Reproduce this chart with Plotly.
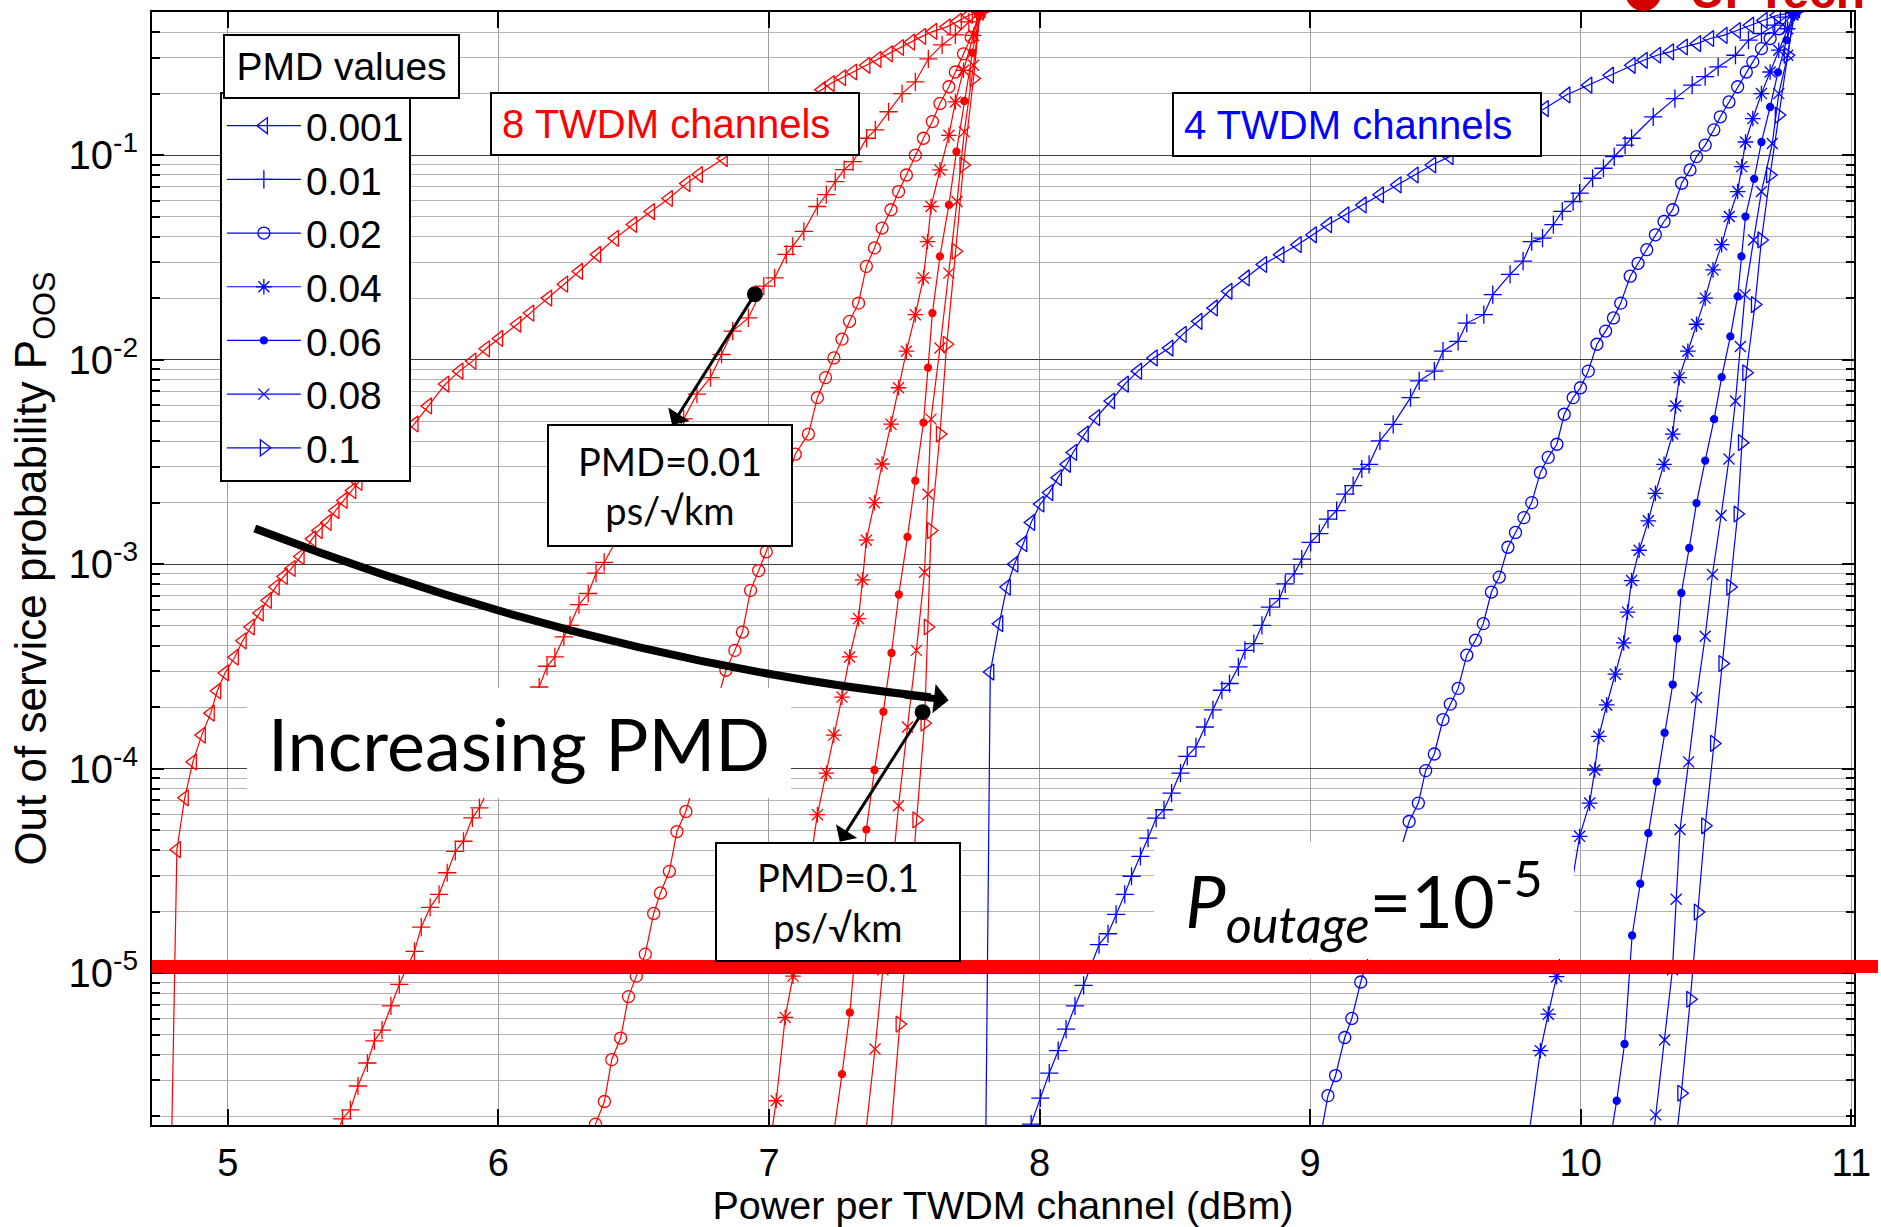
import plotly.graph_objects as go

# ---------------- data ----------------
pmd_labels = ["0.001", "0.01", "0.02", "0.04", "0.06", "0.08", "0.1"]

x_tick_vals = [5, 6, 7, 8, 9, 10, 11]
x_tick_text = ["5", "6", "7", "8", "9", "10", "11"]
y_tick_vals = [1e-5, 1e-4, 1e-3, 1e-2, 1e-1]
y_tick_text = ["10<sup>-5</sup>", "10<sup>-4</sup>", "10<sup>-3</sup>", "10<sup>-2</sup>", "10<sup>-1</sup>"]
p_outage = 1.08e-5

# 8 TWDM channels (red): (power dBm, P_OOS)
red_0001 = [(4.790, 1.0e-6), (4.812, 4.02e-5), (4.841, 7.21e-5), (4.871, 1.08e-4), (4.904, 1.46e-4),
            (4.937, 1.87e-4), (4.961, 2.40e-4), (4.990, 2.94e-4), (5.026, 3.51e-4), (5.055, 4.22e-4),
            (5.085, 4.93e-4), (5.118, 5.77e-4), (5.148, 6.65e-4), (5.177, 7.73e-4), (5.207, 8.71e-4),
            (5.236, 9.53e-4), (5.269, 1.09e-3), (5.312, 1.33e-3), (5.336, 1.46e-3), (5.369, 1.60e-3),
            (5.398, 1.83e-3), (5.428, 2.05e-3), (5.460, 2.29e-3), (5.483, 2.51e-3), (5.690, 4.85e-3),
            (5.740, 5.94e-3), (5.804, 7.60e-3), (5.856, 8.79e-3), (5.904, 9.84e-3), (5.954, 1.13e-2),
            (6.003, 1.27e-2), (6.070, 1.49e-2), (6.118, 1.69e-2), (6.184, 2.00e-2), (6.243, 2.34e-2),
            (6.298, 2.70e-2), (6.365, 3.27e-2), (6.431, 3.92e-2), (6.498, 4.58e-2), (6.564, 5.30e-2),
            (6.630, 6.14e-2), (6.695, 7.26e-2), (6.741, 8.04e-2), (6.833, 9.62e-2), (7.195, 2.09e-1),
            (7.228, 2.24e-1), (7.270, 2.39e-1), (7.311, 2.55e-1), (7.360, 2.75e-1), (7.401, 2.94e-1),
            (7.443, 3.13e-1), (7.484, 3.36e-1), (7.525, 3.57e-1), (7.566, 3.81e-1), (7.607, 4.03e-1),
            (7.657, 4.24e-1), (7.698, 4.51e-1), (7.739, 4.83e-1), (7.780, 5.0e-1)]
red_001 = [(5.395, 1.5e-6), (5.424, 1.94e-6), (5.453, 2.15e-6), (5.481, 2.81e-6), (5.516, 3.64e-6),
           (5.542, 4.67e-6), (5.570, 5.27e-6), (5.603, 6.92e-6), (5.634, 8.83e-6), (5.690, 1.28e-5),
           (5.715, 1.68e-5), (5.748, 2.10e-5), (5.781, 2.43e-5), (5.811, 3.10e-5), (5.841, 3.94e-5),
           (5.871, 4.42e-5), (5.904, 5.75e-5), (5.930, 6.44e-5), (6.151, 2.51e-4), (6.180, 3.17e-4),
           (6.209, 3.52e-4), (6.242, 4.41e-4), (6.265, 5.02e-4), (6.298, 6.35e-4), (6.332, 7.19e-4),
           (6.361, 9.04e-4), (6.391, 1.02e-3), (6.685, 5.13e-3), (6.734, 6.79e-3), (6.784, 8.17e-3),
           (6.825, 1.06e-2), (6.866, 1.38e-2), (6.924, 1.60e-2), (6.981, 2.29e-2), (7.021, 2.51e-2),
           (7.064, 3.27e-2), (7.088, 3.58e-2), (7.129, 4.24e-2), (7.179, 5.61e-2), (7.212, 6.41e-2),
           (7.245, 7.43e-2), (7.278, 8.49e-2), (7.311, 9.29e-2), (7.361, 1.21e-1), (7.393, 1.33e-1),
           (7.442, 1.63e-1), (7.492, 2.00e-1), (7.541, 2.28e-1), (7.589, 2.96e-1), (7.640, 3.46e-1),
           (7.689, 3.87e-1), (7.739, 4.48e-1), (7.780, 5.0e-1)]
red_002 = [(6.345, 1.5e-6), (6.359, 1.83e-6), (6.392, 2.36e-6), (6.419, 3.78e-6), (6.452, 4.82e-6),
           (6.481, 7.69e-6), (6.510, 9.68e-6), (6.543, 1.24e-5), (6.574, 1.96e-5), (6.599, 2.47e-5),
           (6.632, 3.15e-5), (6.660, 4.93e-5), (6.693, 6.18e-5), (6.841, 3.03e-4), (6.874, 3.79e-4),
           (6.902, 4.66e-4), (6.932, 7.45e-4), (6.962, 9.31e-4), (6.990, 1.15e-3), (7.097, 3.45e-3),
           (7.146, 4.33e-3), (7.179, 6.52e-3), (7.209, 8.17e-3), (7.240, 1.02e-2), (7.270, 1.26e-2),
           (7.298, 1.54e-2), (7.331, 1.89e-2), (7.360, 2.86e-2), (7.390, 3.52e-2), (7.418, 4.40e-2),
           (7.451, 5.41e-2), (7.479, 6.64e-2), (7.508, 8.00e-2), (7.541, 1.00e-1), (7.571, 1.21e-1),
           (7.604, 1.46e-1), (7.632, 1.79e-1), (7.665, 2.16e-1), (7.689, 2.55e-1), (7.719, 3.13e-1),
           (7.747, 3.78e-1), (7.780, 5.0e-1)]
red_004 = [(7.005, 1.5e-6), (7.027, 2.38e-6), (7.060, 6.08e-6), (7.089, 9.68e-6), (7.179, 5.96e-5),
           (7.212, 9.51e-5), (7.240, 1.46e-4), (7.270, 2.24e-4), (7.298, 3.52e-4), (7.331, 5.42e-4),
           (7.346, 8.39e-4), (7.360, 1.31e-3), (7.390, 2.00e-3), (7.418, 3.09e-3), (7.451, 4.84e-3),
           (7.479, 7.29e-3), (7.508, 1.10e-2), (7.541, 1.66e-2), (7.571, 2.51e-2), (7.586, 3.78e-2),
           (7.599, 5.61e-2), (7.632, 8.47e-2), (7.665, 1.25e-1), (7.689, 1.82e-1), (7.719, 2.60e-1),
           (7.756, 3.85e-1), (7.780, 5.0e-1)]
red_006 = [(7.235, 1.5e-6), (7.270, 3.21e-6), (7.299, 6.43e-6), (7.360, 5.04e-5), (7.390, 9.86e-5),
           (7.423, 1.90e-4), (7.453, 3.68e-4), (7.480, 7.11e-4), (7.512, 1.36e-3), (7.541, 2.56e-3),
           (7.571, 4.92e-3), (7.588, 9.14e-3), (7.604, 1.69e-2), (7.632, 3.20e-2), (7.665, 5.71e-2),
           (7.693, 1.04e-1), (7.722, 1.84e-1), (7.752, 3.17e-1), (7.780, 5.0e-1)]
red_008 = [(7.354, 1.5e-6), (7.392, 4.26e-6), (7.421, 1.04e-5), (7.479, 6.59e-5), (7.512, 1.60e-4),
           (7.545, 3.79e-4), (7.575, 9.14e-4), (7.588, 2.20e-3), (7.599, 5.12e-3), (7.632, 1.14e-2),
           (7.665, 2.65e-2), (7.695, 5.93e-2), (7.722, 1.30e-1), (7.756, 2.75e-1), (7.780, 5.0e-1)]
red_01 = [(7.448, 1.5e-6), (7.483, 5.64e-6), (7.545, 5.62e-5), (7.575, 1.67e-4), (7.587, 4.93e-4),
          (7.599, 1.46e-3), (7.632, 4.33e-3), (7.657, 1.19e-2), (7.690, 3.39e-2), (7.719, 8.95e-2),
          (7.756, 2.37e-1), (7.780, 5.0e-1)]

# 4 TWDM channels (blue)
blue_0001 = [(7.800, 1.0e-6), (7.818, 2.97e-4), (7.851, 5.12e-4), (7.879, 7.73e-4), (7.907, 1.00e-3),
             (7.940, 1.26e-3), (7.969, 1.60e-3), (8.003, 1.97e-3), (8.036, 2.24e-3), (8.068, 2.65e-3),
             (8.101, 3.08e-3), (8.124, 3.52e-3), (8.167, 4.33e-3), (8.209, 5.21e-3), (8.264, 6.28e-3),
             (8.315, 7.59e-3), (8.364, 8.79e-3), (8.422, 1.02e-2), (8.480, 1.14e-2), (8.529, 1.33e-2),
             (8.587, 1.54e-2), (8.644, 1.79e-2), (8.698, 2.16e-2), (8.762, 2.51e-2), (8.826, 2.92e-2),
             (8.890, 3.26e-2), (8.954, 3.65e-2), (9.010, 4.08e-2), (9.066, 4.57e-2), (9.130, 5.11e-2),
             (9.194, 5.71e-2), (9.258, 6.40e-2), (9.323, 7.16e-2), (9.386, 8.00e-2), (9.451, 8.95e-2),
             (9.515, 9.84e-2), (9.867, 1.69e-1), (9.947, 1.97e-1), (10.028, 2.20e-1), (10.108, 2.46e-1),
             (10.188, 2.75e-1), (10.233, 2.91e-1), (10.282, 3.08e-1), (10.330, 3.20e-1), (10.381, 3.38e-1),
             (10.430, 3.51e-1), (10.478, 3.72e-1), (10.528, 3.85e-1), (10.577, 4.07e-1), (10.626, 4.32e-1),
             (10.676, 4.56e-1), (10.725, 4.83e-1), (10.790, 5.0e-1)]
blue_001 = [(7.955, 1.5e-6), (7.969, 1.83e-6), (8.003, 2.45e-6), (8.036, 3.25e-6), (8.069, 4.18e-6),
            (8.098, 5.33e-6), (8.131, 6.92e-6), (8.163, 8.73e-6), (8.220, 1.38e-5), (8.253, 1.56e-5),
            (8.283, 1.94e-5), (8.315, 2.43e-5), (8.340, 2.98e-5), (8.373, 3.73e-5), (8.401, 4.58e-5),
            (8.431, 5.74e-5), (8.460, 6.30e-5), (8.488, 7.60e-5), (8.521, 9.51e-5), (8.546, 1.15e-4),
            (8.578, 1.28e-4), (8.611, 1.60e-4), (8.641, 1.94e-4), (8.674, 2.42e-4), (8.702, 2.61e-4),
            (8.735, 3.15e-4), (8.759, 3.79e-4), (8.792, 4.09e-4), (8.822, 5.02e-4), (8.851, 6.17e-4),
            (8.887, 6.78e-4), (8.908, 8.02e-4), (8.941, 8.97e-4), (8.969, 1.06e-3), (9.002, 1.28e-3),
            (9.034, 1.41e-3), (9.066, 1.66e-3), (9.098, 1.83e-3), (9.130, 2.20e-3), (9.159, 2.42e-3),
            (9.191, 2.92e-3), (9.218, 3.08e-3), (9.258, 4.01e-3), (9.307, 4.83e-3), (9.371, 6.52e-3),
            (9.403, 7.87e-3), (9.459, 8.79e-3), (9.491, 1.10e-2), (9.547, 1.23e-2), (9.579, 1.51e-2),
            (9.642, 1.66e-2), (9.675, 2.08e-2), (9.739, 2.61e-2), (9.787, 3.03e-2), (9.819, 3.78e-2),
            (9.859, 3.93e-2), (9.899, 4.57e-2), (9.932, 5.31e-2), (9.972, 5.93e-2), (9.996, 6.52e-2),
            (10.044, 7.71e-2), (10.084, 8.63e-2), (10.124, 9.84e-2), (10.164, 1.12e-1), (10.188, 1.21e-1),
            (10.268, 1.54e-1), (10.348, 1.89e-1), (10.412, 2.20e-1), (10.460, 2.42e-1), (10.508, 2.70e-1),
            (10.572, 3.08e-1), (10.620, 3.65e-1), (10.668, 3.93e-1), (10.717, 4.32e-1), (10.757, 4.73e-1),
            (10.790, 5.0e-1)]
blue_002 = [(9.035, 1.5e-6), (9.066, 2.52e-6), (9.094, 3.16e-6), (9.128, 4.85e-6), (9.154, 6.01e-6),
            (9.187, 9.06e-6), (9.366, 5.52e-5), (9.400, 6.79e-5), (9.427, 9.79e-5), (9.459, 1.18e-4),
            (9.491, 1.74e-4), (9.518, 2.07e-4), (9.547, 2.47e-4), (9.579, 3.59e-4), (9.611, 4.25e-4),
            (9.640, 5.12e-4), (9.670, 7.31e-4), (9.699, 8.65e-4), (9.731, 1.21e-3), (9.759, 1.43e-3),
            (9.790, 1.69e-3), (9.819, 2.00e-3), (9.851, 2.81e-3), (9.880, 3.33e-3), (9.912, 3.86e-3),
            (9.939, 5.41e-3), (9.972, 6.52e-3), (9.999, 7.29e-3), (10.028, 8.79e-3), (10.060, 1.19e-2),
            (10.092, 1.38e-2), (10.121, 1.60e-2), (10.148, 1.89e-2), (10.183, 2.56e-2), (10.212, 2.96e-2),
            (10.244, 3.45e-2), (10.276, 4.08e-2), (10.308, 4.74e-2), (10.340, 5.41e-2), (10.373, 7.29e-2),
            (10.404, 8.47e-2), (10.428, 9.84e-2), (10.460, 1.12e-1), (10.492, 1.33e-1), (10.516, 1.54e-1),
            (10.548, 1.82e-1), (10.580, 2.16e-1), (10.612, 2.55e-1), (10.636, 2.86e-1), (10.668, 3.32e-1),
            (10.700, 3.72e-1), (10.732, 4.15e-1), (10.790, 5.0e-1)]
blue_004 = [(9.805, 1.5e-6), (9.851, 4.18e-6), (9.880, 6.31e-6), (9.911, 9.62e-6), (9.996, 4.67e-5),
            (10.033, 6.79e-5), (10.052, 9.86e-5), (10.067, 1.44e-4), (10.096, 2.05e-4), (10.128, 2.90e-4),
            (10.159, 4.12e-4), (10.173, 5.83e-4), (10.188, 8.32e-4), (10.216, 1.17e-3), (10.250, 1.63e-3),
            (10.276, 2.22e-3), (10.308, 3.08e-3), (10.340, 4.33e-3), (10.351, 5.94e-3), (10.364, 8.17e-3),
            (10.396, 1.10e-2), (10.428, 1.49e-2), (10.460, 2.00e-2), (10.489, 2.75e-2), (10.521, 3.65e-2),
            (10.549, 5.01e-2), (10.580, 6.64e-2), (10.595, 8.79e-2), (10.609, 1.16e-1), (10.636, 1.51e-1),
            (10.668, 2.00e-1), (10.700, 2.55e-1), (10.732, 3.26e-1), (10.765, 4.15e-1), (10.790, 5.0e-1)]
blue_006 = [(10.108, 1.5e-6), (10.133, 2.38e-6), (10.162, 4.51e-6), (10.190, 1.53e-5), (10.220, 2.74e-5),
            (10.250, 4.84e-5), (10.281, 8.65e-5), (10.310, 1.50e-4), (10.340, 2.58e-4), (10.356, 4.33e-4),
            (10.372, 7.23e-4), (10.401, 1.20e-3), (10.428, 1.99e-3), (10.460, 3.21e-3), (10.493, 5.12e-3),
            (10.521, 8.22e-3), (10.553, 1.30e-2), (10.580, 2.04e-2), (10.594, 3.20e-2), (10.609, 5.01e-2),
            (10.641, 7.66e-2), (10.668, 1.16e-1), (10.700, 1.72e-1), (10.729, 2.54e-1), (10.761, 3.65e-1),
            (10.790, 5.0e-1)]
blue_008 = [(10.266, 1.5e-6), (10.277, 2.03e-6), (10.310, 4.72e-6), (10.339, 1.04e-5), (10.353, 2.30e-5),
            (10.367, 5.04e-5), (10.399, 1.08e-4), (10.428, 2.23e-4), (10.460, 4.44e-4), (10.487, 8.91e-4),
            (10.519, 1.73e-3), (10.548, 3.27e-3), (10.572, 6.28e-3), (10.590, 1.16e-2), (10.607, 2.08e-2),
            (10.639, 3.85e-2), (10.668, 6.64e-2), (10.708, 1.14e-1), (10.732, 2.00e-1), (10.765, 3.08e-1),
            (10.790, 5.0e-1)]
blue_01 = [(10.352, 1.5e-6), (10.372, 2.59e-6), (10.405, 7.46e-6), (10.433, 1.99e-5), (10.460, 5.26e-5),
           (10.493, 1.33e-4), (10.524, 3.27e-4), (10.553, 7.73e-4), (10.580, 1.76e-3), (10.596, 3.93e-3),
           (10.612, 8.63e-3), (10.644, 1.86e-2), (10.668, 3.85e-2), (10.700, 8.00e-2), (10.732, 1.57e-1),
           (10.765, 3.08e-1), (10.790, 5.0e-1)]

red_series = [red_0001, red_001, red_002, red_004, red_006, red_008, red_01]
blue_series = [blue_0001, blue_001, blue_002, blue_004, blue_006, blue_008, blue_01]

# ---------------- layout helpers ----------------
W, H = 1881, 1227
ML, MR, MT, MB = 152, 24, 10, 101
PW = W - ML - MR
PH = H - MT - MB


def px(fx):
    return (fx - ML) / PW


def py(fy):
    return (H - MB - fy) / PH


RED = "#ff0000"
BLUE = "#0000ff"
AX_FONT = "Liberation Sans, Arial, sans-serif"
ANN_FONT = "Lato, Open Sans, sans-serif"

symbols = ["triangle-left-open", "cross-thin-open", "circle-open", "asterisk-open",
           "circle", "x-thin-open", "triangle-right-open"]
sizes = [14, 13, 12, 13, 7, 11, 14]

fig = go.Figure()
for series, color, show in [(red_series, RED, False), (blue_series, BLUE, True)]:
    for lab, pts, sym, sz in zip(pmd_labels, series, symbols, sizes):
        fig.add_trace(go.Scatter(
            x=[p[0] for p in pts], y=[p[1] for p in pts],
            mode="lines+markers", name=lab, showlegend=show,
            line=dict(color=color, width=1.2),
            marker=dict(symbol=sym, size=sz, color=color,
                        line=dict(color=color, width=1.3)),
            hoverinfo="skip"))

y_minor_vals = [m * 10.0 ** e for e in range(-6, 0) for m in range(2, 10)
                if 1.85e-6 <= m * 10.0 ** e <= 0.45]

fig.update_layout(
    width=W, height=H,
    margin=dict(l=ML, r=MR, t=MT, b=MB, pad=0),
    paper_bgcolor="white", plot_bgcolor="white",
    font=dict(family=AX_FONT, size=38, color="black"),
    showlegend=True,
    legend=dict(x=px(220), y=py(90), xanchor="left", yanchor="top",
                bgcolor="white", bordercolor="black", borderwidth=2,
                font=dict(family=AX_FONT, size=39, color="black"),
                itemwidth=74, tracegroupgap=0),
    xaxis=dict(range=[4.72, 11.01], tickmode="array", tickvals=x_tick_vals, ticktext=x_tick_text,
               ticks="inside", ticklen=16, tickwidth=1.5, tickcolor="black",
               showline=True, linecolor="black", linewidth=2, mirror="ticks",
               showgrid=True, gridcolor="#a0a0a0", gridwidth=1, zeroline=False,
               tickfont=dict(family=AX_FONT, size=38), ticklabelstandoff=3,
               title=dict(text="Power per TWDM channel (dBm)", font=dict(family=AX_FONT, size=39.5),
                          standoff=6)),
    yaxis=dict(type="log", range=[-5.742, -0.300], tickmode="array", tickvals=y_tick_vals,
               ticktext=y_tick_text, ticks="inside", ticklen=12, tickwidth=1.5, tickcolor="black",
               showline=True, linecolor="black", linewidth=2, mirror="ticks",
               showgrid=True, gridcolor="#3c3c3c", gridwidth=1, zeroline=False,
               tickfont=dict(family=AX_FONT, size=40), ticklabelstandoff=4,
               minor=dict(tickmode="array", tickvals=y_minor_vals, ticks="inside", ticklen=8,
                          tickcolor="black", showgrid=True, gridcolor="#b4b4b4", gridwidth=1),
               title=dict(text="Out of service probability P<sub>OOS</sub>",
                          font=dict(family=AX_FONT, size=44), standoff=8)),
)

shapes = [
    # threshold line P_outage
    dict(type="line", xref="paper", yref="y", x0=0, x1=(W - ML) / PW, y0=p_outage, y1=p_outage,
         line=dict(color=RED, width=13), layer="above"),
    # curved "increasing PMD" arrow body
    dict(type="path", xref="paper", yref="paper",
         path=f"M {px(255)},{py(528)} Q {px(602)},{py(661)} {px(932)},{py(697)}",
         line=dict(color="black", width=8)),
    # dots at start of thin arrows
    dict(type="circle", xref="paper", yref="paper", x0=px(748), x1=px(764), y0=py(301), y1=py(285),
         fillcolor="black", line=dict(width=0)),
    dict(type="circle", xref="paper", yref="paper", x0=px(916), x1=px(932), y0=py(720), y1=py(704),
         fillcolor="black", line=dict(width=0)),
    # logo fragment at the top edge
    dict(type="circle", xref="paper", yref="paper", x0=px(1628), x1=px(1664), y0=py(9), y1=py(-27),
         fillcolor="#d40000", line=dict(width=0)),
]

annotations = [
    dict(xref="paper", yref="paper", x=px(341.5), y=py(64.5), xanchor="center", yanchor="middle",
         text="PMD values", showarrow=False, font=dict(family=AX_FONT, size=39, color="black"),
         bgcolor="white", bordercolor="black", borderwidth=2, borderpad=0, width=233, height=61),
    dict(xref="paper", yref="paper", x=px(676), y=py(122), xanchor="center", yanchor="middle",
         text="8 TWDM channels", showarrow=False, font=dict(family=AX_FONT, size=40, color=RED),
         align="left", bgcolor="white", bordercolor="black", borderwidth=2, borderpad=10,
         width=346, height=40),
    dict(xref="paper", yref="paper", x=px(1359.5), y=py(122.5), xanchor="center", yanchor="middle",
         text="4 TWDM channels", showarrow=False, font=dict(family=AX_FONT, size=40, color=BLUE),
         align="left", bgcolor="white", bordercolor="black", borderwidth=2, borderpad=10,
         width=346, height=41),
    dict(xref="paper", yref="paper", x=px(671), y=py(485), xanchor="center", yanchor="middle",
         text="PMD=0.01<br>ps/\u221akm", showarrow=False, font=dict(family=ANN_FONT, size=38, color="black"),
         bgcolor="white", bordercolor="black", borderwidth=2, borderpad=0, width=242, height=119),
    dict(xref="paper", yref="paper", x=px(839), y=py(902), xanchor="center", yanchor="middle",
         text="PMD=0.1<br>ps/\u221akm", showarrow=False, font=dict(family=ANN_FONT, size=38, color="black"),
         bgcolor="white", bordercolor="black", borderwidth=2, borderpad=0, width=242, height=116),
    dict(xref="paper", yref="paper", x=px(520), y=py(743), xanchor="center", yanchor="middle",
         text="Increasing PMD", showarrow=False, font=dict(family=ANN_FONT, size=72, color="black"),
         bgcolor="white", borderwidth=0, borderpad=0, width=544, height=110),
    dict(xref="paper", yref="paper", x=px(1366), y=py(901), xanchor="center", yanchor="middle",
         text="<i>P<sub>outage</sub></i>=10<sup>-5</sup>", showarrow=False,
         font=dict(family=ANN_FONT, size=72, color="black"),
         bgcolor="white", borderwidth=0, borderpad=0, width=420, height=117),
    # arrowhead of the curved arrow
    dict(xref="paper", yref="paper", x=px(950), y=py(700), ax=-45, ay=-5, text="", showarrow=True,
         arrowhead=1, arrowsize=0.7, arrowwidth=7, arrowcolor="black"),
    # thin arrows
    dict(xref="paper", yref="paper", x=px(673), y=py(424), ax=83, ay=-131, text="", showarrow=True,
         arrowhead=1, arrowsize=1.4, arrowwidth=3, arrowcolor="black"),
    dict(xref="paper", yref="paper", x=px(841), y=py(842), ax=83, ay=-130, text="", showarrow=True,
         arrowhead=1, arrowsize=1.4, arrowwidth=3, arrowcolor="black"),
    # logo text fragment
    dict(xref="paper", yref="paper", x=px(1780), y=py(18), xanchor="center", yanchor="bottom",
         text="<b>UPTech</b>", showarrow=False, font=dict(family=AX_FONT, size=48, color="#d40000")),
]

fig.update_layout(shapes=shapes, annotations=annotations)
fig.write_html("out.html", config={"displayModeBar": False},
               post_script="document.body.style.margin='0px';document.body.style.overflow='hidden';")
